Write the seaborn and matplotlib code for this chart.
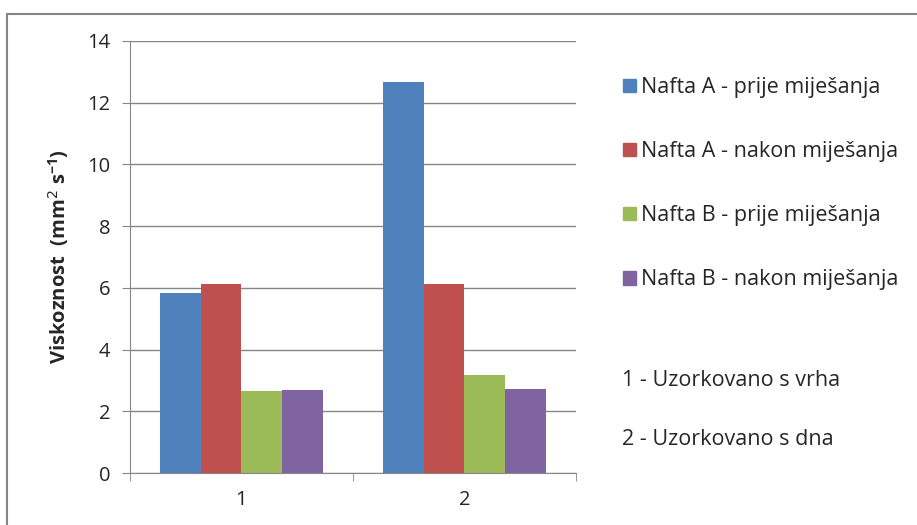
import seaborn as sns
import matplotlib.pyplot as plt
import matplotlib.patches as mpatches
import pandas as pd

samples = ["1", "2"]
series = ["Nafta A - prije miješanja", "Nafta A - nakon miješanja",
          "Nafta B - prije miješanja", "Nafta B - nakon miješanja"]
nafta_a_prije = [5.84, 12.68]
nafta_a_nakon = [6.13, 6.13]
nafta_b_prije = [2.67, 3.17]
nafta_b_nakon = [2.68, 2.72]
colors = ["#4F81BD", "#C0504D", "#9BBB59", "#8064A2"]
notes = ["1 - Uzorkovano s vrha", "2 - Uzorkovano s dna"]

rows = []
for name, vals in zip(series, [nafta_a_prije, nafta_a_nakon, nafta_b_prije, nafta_b_nakon]):
    for s, v in zip(samples, vals):
        rows.append({"uzorak": s, "serija": name, "viskoznost": v})
df = pd.DataFrame(rows)

sns.set_style("white")
plt.rcParams["font.family"] = ["Open Sans", "DejaVu Sans"]

fig = plt.figure(figsize=(9.17, 5.25), dpi=100)
ax = fig.add_axes([0.1418, 0.099, 0.486, 0.823])

sns.barplot(data=df, x="uzorak", y="viskoznost", hue="serija", palette=colors,
            saturation=1, width=0.73, edgecolor="none", ax=ax, legend=False)

ax.set_ylim(0, 14)
ax.set_xlim(-0.5, 1.5)
ax.set_yticks(range(0, 15, 2))
ax.grid(axis="y", color="#868686", linewidth=1)
ax.set_axisbelow(True)
for side in ["top", "right"]:
    ax.spines[side].set_visible(False)
for side in ["left", "bottom"]:
    ax.spines[side].set_color("#868686")
ax.tick_params(axis="y", length=6, color="#868686", labelsize=14.5, pad=8, left=True)
ax.tick_params(axis="x", which="major", length=0, labelsize=14.5, pad=12)
ax.set_xticks([-0.5, 0.5, 1.5], minor=True)
ax.tick_params(axis="x", which="minor", length=6, color="#868686", bottom=True)
ax.set_xlabel("")
ax.set_ylabel("Viskoznost  (mm$^{2}$ s$^{\\mathregular{-1}}$)", fontsize=14.5,
              fontweight="bold", labelpad=12)

handles = [mpatches.Patch(color=c, label=n) for c, n in zip(colors, series)]
fig.legend(handles=handles, loc="upper left", bbox_to_anchor=(0.658, 0.89),
           frameon=False, fontsize=15.5, handlelength=0.6, handleheight=0.6,
           handletextpad=0.25, labelspacing=2.0)

fig.text(0.678, 0.276, notes[0], fontsize=15.5, va="center")
fig.text(0.678, 0.162, notes[1], fontsize=15.5, va="center")

fig.patches.append(mpatches.Rectangle((0.0076, -0.05), 1.1, 0.0233 + 1.0, transform=fig.transFigure,
                                      fill=False, edgecolor="#868686", linewidth=1.5))

fig.savefig("out.png", dpi=100)
